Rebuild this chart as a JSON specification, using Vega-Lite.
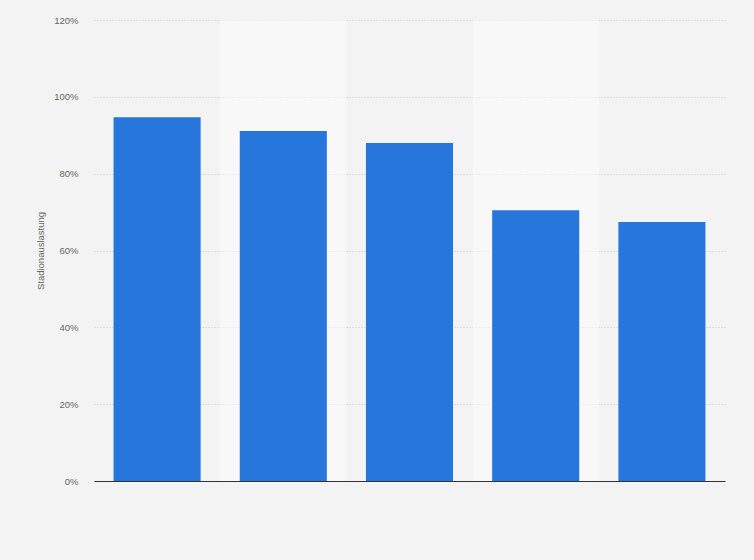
{
  "$schema": "https://vega.github.io/schema/vega-lite/v6.json",
  "autosize": {"type": "none"},
  "width": 631,
  "height": 461,
  "padding": {"top": 20, "left": 94, "right": 29, "bottom": 79},
  "background": "#f3f3f3",
  "config": {
    "view": {"stroke": null, "fill": "#f3f3f3"},
    "font": "Liberation Sans"
  },
  "data": {
    "values": [
      {"kategorie": "1", "auslastung": 0.947},
      {"kategorie": "2", "auslastung": 0.911},
      {"kategorie": "3", "auslastung": 0.880},
      {"kategorie": "4", "auslastung": 0.705},
      {"kategorie": "5", "auslastung": 0.674}
    ]
  },
  "transform": [
    {"window": [{"op": "row_number", "as": "nr"}]}
  ],
  "encoding": {
    "x": {
      "field": "kategorie",
      "type": "nominal",
      "scale": {"domain": ["1", "2", "3", "4", "5"], "paddingInner": 0, "paddingOuter": 0},
      "axis": {
        "title": null,
        "labels": false,
        "ticks": false,
        "domainColor": "#333333",
        "domainWidth": 1
      }
    }
  },
  "layer": [
    {
      "mark": {"type": "rect", "fill": "#ffffff", "opacity": 0.45},
      "transform": [{"filter": "datum.nr % 2 == 0"}],
      "encoding": {
        "x": {"field": "kategorie", "type": "nominal", "bandPosition": 0},
        "x2": {"field": "kategorie", "bandPosition": 1},
        "y": {"datum": 0, "type": "quantitative"},
        "y2": {"datum": 1.2}
      }
    },
    {
      "mark": {"type": "bar", "color": "#2776db", "width": {"band": 0.69}},
      "encoding": {
        "y": {
          "field": "auslastung",
          "type": "quantitative",
          "scale": {"domain": [0, 1.2], "nice": false},
          "axis": {
            "title": "Stadionauslastung",
            "titleFontSize": 9.5,
            "titleFontWeight": "normal",
            "titleColor": "#666666",
            "titlePadding": 8,
            "format": ".0%",
            "values": [0, 0.2, 0.4, 0.6, 0.8, 1.0, 1.2],
            "labelFontSize": 9.5,
            "labelColor": "#666666",
            "labelPadding": 16,
            "ticks": false,
            "domain": false,
            "grid": true,
            "gridColor": "#c8c8c8",
            "gridDash": [1, 2],
            "gridWidth": 1
          }
        }
      }
    }
  ]
}
